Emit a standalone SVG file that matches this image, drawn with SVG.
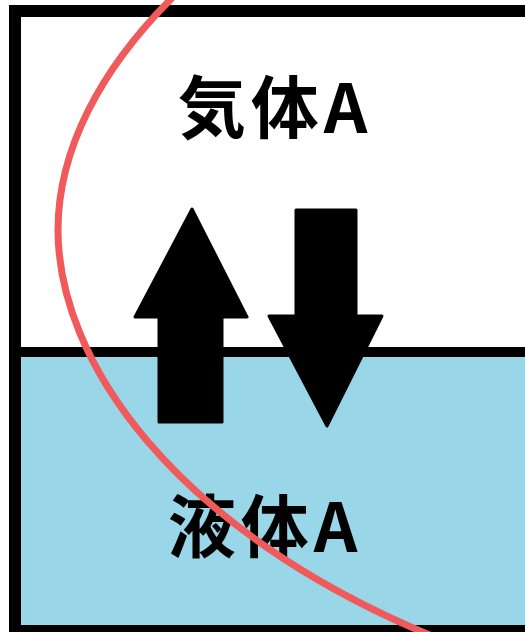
<svg xmlns="http://www.w3.org/2000/svg" width="525" height="632" viewBox="0 0 525 632">
  <style>
    .lbl { font-family: "Noto Sans CJK JP", "Noto Sans", sans-serif; font-weight: bold; font-size: 68px; letter-spacing: 5px; fill: #000; }
    .arrow { fill: #000; stroke: #000; stroke-width: 3; stroke-linejoin: round; }
  </style>
  <rect width="525" height="632" fill="#ffffff"/>
  <g id="gas">
    <rect x="21" y="17" width="504" height="335" fill="#ffffff"/>
    <text class="lbl" x="275" y="133" text-anchor="middle">気体A</text>
  </g>
  <g id="liquid">
    <rect x="21" y="357" width="504" height="268" fill="#98D6E8"/>
    <text class="lbl" x="265" y="552" text-anchor="middle">液体A</text>
  </g>
  <g id="container" fill="none" stroke="#000">
    <rect x="15" y="11" width="530" height="620" stroke-width="12"/>
    <line x1="9" y1="352" x2="525" y2="352" stroke-width="10"/>
  </g>
  <g id="connectors">
    <path class="arrow" d="M192 209 L247 317 L222 317 L222 422 L159 422 L159 317 L135 317 Z"/>
    <path class="arrow" d="M296 210 L356 210 L356 316 L382 316 L327 426 L269 316 L296 316 Z"/>
  </g>
  <path id="curve" d="M172 -2 C100 70 58 150 58 230 C58 360 172 528 432 636" fill="none" stroke="#F05A5A" stroke-width="7"/>
</svg>
